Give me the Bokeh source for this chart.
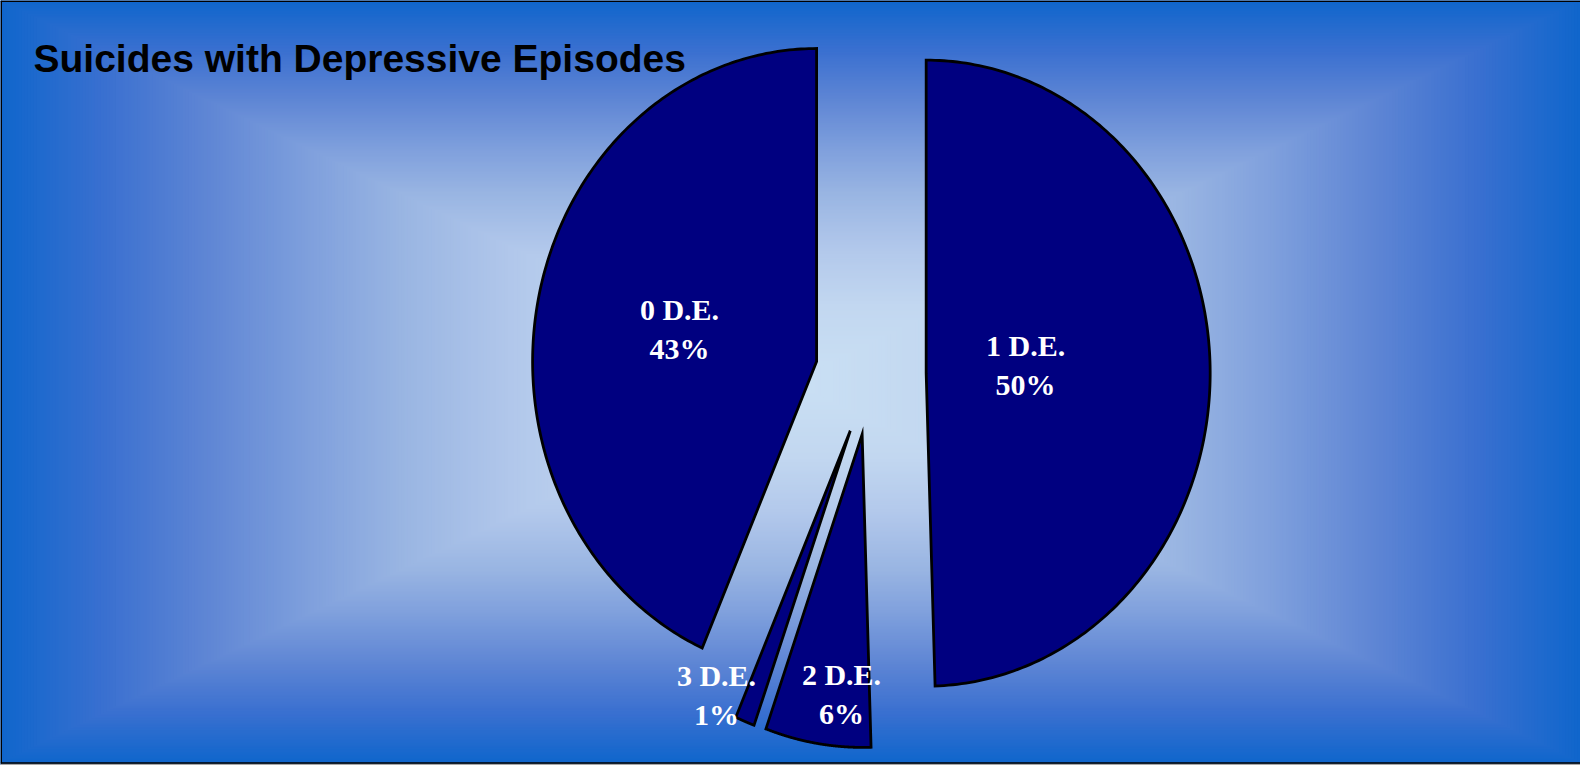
import numpy as np
from bokeh.plotting import figure
from bokeh.models import Range1d, ColumnDataSource
from bokeh.core.properties import value
from bokeh.embed import file_html
from bokeh.resources import INLINE

# ---------------- data ----------------
categories = ["0 D.E.", "1 D.E.", "2 D.E.", "3 D.E."]
shares = [43.4, 49.5, 6.0, 1.1]      # percent of suicides
title_text = "Suicides with Depressive Episodes"

# ---------------- layout / style ----------------
W, H = 1580, 765
cx, cy = 870.3, 373.6          # pie centre (px)
rx, ry = 284.0, 313.0          # elliptical radii (px)
explode = 0.195                # explosion as fraction of radius
label_r = [0.494, 0.351, 0.834, 0.966]
label_dang = [0.4, -3.6, -4.0, 7.4]
slice_fill = "#000080"

p = figure(width=W, height=H, x_range=Range1d(0, W), y_range=Range1d(H, 0),
           output_backend="svg", toolbar_location=None, min_border=0,
           x_axis_location=None, y_axis_location=None)
p.grid.visible = False
p.outline_line_color = None
p.background_fill_color = "#1166cc"
p.border_fill_color = "#1166cc"

# ---------------- background: rectangular path gradient ----------------
N = 260
s = np.linspace(1.0, 0.0, N, endpoint=False)
stop_s = [0.0, 0.2, 0.35, 0.5, 0.62, 0.75, 0.87, 1.0]
stop_rgb = np.array([
    (202, 224, 244),
    (194, 215, 240),
    (178, 200, 235),
    (152, 180, 226),
    (125, 158, 220),
    (92, 132, 212),
    (58, 112, 208),
    (16, 102, 204),
])
cols = []
for v in s:
    r = np.interp(v, stop_s, stop_rgb[:, 0])
    g = np.interp(v, stop_s, stop_rgb[:, 1])
    b = np.interp(v, stop_s, stop_rgb[:, 2])
    cols.append("#%02x%02x%02x" % (int(round(r)), int(round(g)), int(round(b))))
gcx, gcy = W / 2.0, 762 / 2.0
p.quad(left=gcx - gcx * s, right=gcx + gcx * s,
       top=gcy - gcy * s, bottom=gcy + gcy * s,
       fill_color=cols, line_color=None)

# ---------------- pie slices ----------------
total = float(sum(shares))
start = 360.0 * (1 - shares[0] / total)
xs, ys, lx, ly, names, pcts = [], [], [], [], [], []
a0 = start
for i, (cat, v) in enumerate(zip(categories, shares)):
    span = 360.0 * v / total
    a1 = a0 + span
    mid = np.deg2rad((a0 + a1) / 2)
    ox = cx + explode * rx * np.sin(mid)
    oy = cy - explode * ry * np.cos(mid)
    t = np.deg2rad(np.linspace(a0, a1, 200))
    xs.append([ox] + list(ox + rx * np.sin(t)) + [ox])
    ys.append([oy] + list(oy - ry * np.cos(t)) + [oy])
    la = mid + np.deg2rad(label_dang[i])
    lx.append(ox + label_r[i] * rx * np.sin(la))
    ly.append(oy - label_r[i] * ry * np.cos(la))
    names.append(cat)
    pcts.append("%d%%" % int(100 * v / total + 0.5))
    a0 = a1

p.patches(xs=xs, ys=ys, fill_color=slice_fill, line_color="black", line_width=2.8,
          line_join="miter")

src = ColumnDataSource(dict(x=lx, y=ly, name=names, pct=pcts))
for col, off in (("name", -19.5), ("pct", 19.5)):
    p.text(x="x", y="y", text=col, source=src, y_offset=off,
           text_font=value("Liberation Serif"), text_font_style="bold",
           text_font_size="30px", text_color="white",
           text_align="center", text_baseline="middle")

# ---------------- title ----------------
p.text(x=[33], y=[57.5], text=[title_text], text_font=value("Liberation Sans"),
       text_font_style="bold", text_font_size="39px", text_color="black",
       text_align="left", text_baseline="alphabetic")

# ---------------- frame border ----------------
p.quad(left=[0], right=[W], top=[763], bottom=[H], fill_color="#a8a8a8", line_color=None)
p.segment(x0=[0, 0.75, 0], y0=[0.75, 0, 762.5], x1=[W, 0.75, W], y1=[0.75, 763, 762.5],
          line_color="black", line_width=1.5)

open("out.html", "w").write(file_html(p, INLINE))
